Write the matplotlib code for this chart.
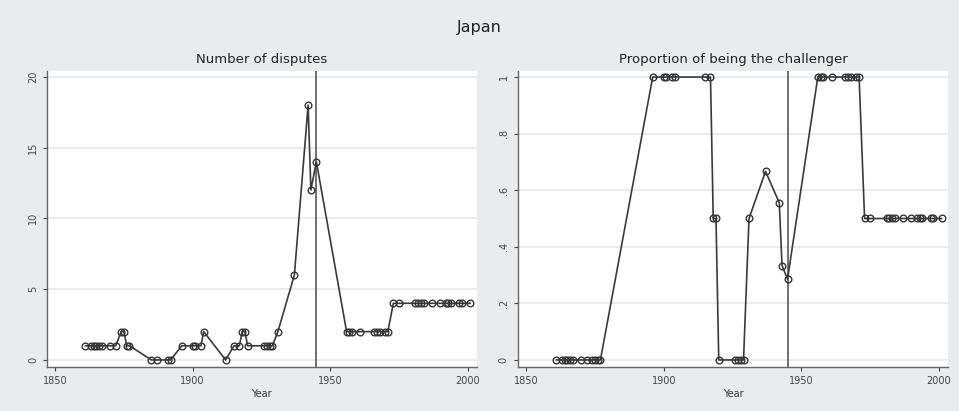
import numpy as np
import matplotlib
matplotlib.use("Agg")
import matplotlib.pyplot as plt

# number of disputes per year
years = [1861, 1863, 1864, 1865, 1866, 1867, 1870, 1872, 1874, 1875, 1876, 1877,
         1885, 1887, 1891, 1892, 1896, 1900, 1901, 1903, 1904, 1912, 1915, 1917,
         1918, 1919, 1920, 1926, 1927, 1928, 1929, 1931, 1937, 1942, 1943, 1945,
         1956, 1957, 1958, 1961, 1966, 1967, 1968, 1970, 1971,
         1973, 1975, 1981, 1982, 1983, 1984, 1987, 1990, 1992, 1993, 1994, 1997, 1998, 2001]
disputes = [1, 1, 1, 1, 1, 1, 1, 1, 2, 2, 1, 1,
            0, 0, 0, 0, 1, 1, 1, 1, 2, 0, 1, 1,
            2, 2, 1, 1, 1, 1, 1, 2, 6, 18, 12, 14,
            2, 2, 2, 2, 2, 2, 2, 2, 2,
            4, 4, 4, 4, 4, 4, 4, 4, 4, 4, 4, 4, 4, 4]

# proportion of being the challenger (years with at least one dispute)
years_p = [1861, 1863, 1864, 1865, 1866, 1867, 1870, 1872, 1874, 1875, 1876, 1877,
           1896, 1900, 1901, 1903, 1904, 1915, 1917,
           1918, 1919, 1920, 1926, 1927, 1928, 1929, 1931, 1937, 1942, 1943, 1945,
           1956, 1957, 1958, 1961, 1966, 1967, 1968, 1970, 1971,
           1973, 1975, 1981, 1982, 1983, 1984, 1987, 1990, 1992, 1993, 1994, 1997, 1998, 2001]
challenger = [0, 0, 0, 0, 0, 0, 0, 0, 0, 0, 0, 0,
              1, 1, 1, 1, 1, 1, 1,
              0.5, 0.5, 0, 0, 0, 0, 0, 0.5, 4/6, 10/18, 4/12, 4/14,
              1, 1, 1, 1, 1, 1, 1, 1, 1,
              0.5, 0.5, 0.5, 0.5, 0.5, 0.5, 0.5, 0.5, 0.5, 0.5, 0.5, 0.5, 0.5, 0.5]

x_ticks = [1850, 1900, 1950, 2000]
war_end = 1945

bg = "#e9ebed"
fig = plt.figure(figsize=(9.59, 4.11), dpi=100, facecolor=bg)
fig.text(0.5, 0.932, "Japan", ha="center", va="center", fontsize=11.5, color="#222222")

ax1 = fig.add_axes([0.049, 0.107, 0.448, 0.720])
ax2 = fig.add_axes([0.540, 0.107, 0.4485, 0.720])


def style(ax, title):
    ax.set_facecolor("white")
    for s in ["top", "right"]:
        ax.spines[s].set_visible(False)
    for s in ["left", "bottom"]:
        ax.spines[s].set_color("#666666")
        ax.spines[s].set_linewidth(1.0)
    ax.set_xlim(1847, 2003.3)
    ax.set_xticks(x_ticks)
    ax.grid(axis="y", color="#e6e8ea", linewidth=1.2)
    ax.set_axisbelow(True)
    ax.tick_params(axis="both", labelsize=7, colors="#444444", length=3, width=0.8)
    for lab in ax.get_yticklabels():
        lab.set_rotation(90)
        lab.set_va("center")
    ax.set_xlabel("Year", fontsize=7, color="#333333", labelpad=2)
    ax.set_title(title, fontsize=9.5, color="#222222", pad=6)
    ax.axvline(war_end, color="#707070", linewidth=1.4, zorder=1)


ax1.plot(years, disputes, color="#3a3a3a", linewidth=1.2, marker="o",
         markersize=4.8, markerfacecolor="none", markeredgecolor="#333333",
         markeredgewidth=1.0, zorder=3)
ax1.set_ylim(-0.5, 20.4)
ax1.set_yticks([0, 5, 10, 15, 20])
style(ax1, "Number of disputes")

ax2.plot(years_p, challenger, color="#3a3a3a", linewidth=1.2, marker="o",
         markersize=4.8, markerfacecolor="none", markeredgecolor="#333333",
         markeredgewidth=1.0, zorder=3)
ax2.set_ylim(-0.025, 1.021)
ax2.set_yticks([0, 0.2, 0.4, 0.6, 0.8, 1])
ax2.set_yticklabels(["0", ".2", ".4", ".6", ".8", "1"])
style(ax2, "Proportion of being the challenger")

fig.savefig("out.png", dpi=100, facecolor=bg)
